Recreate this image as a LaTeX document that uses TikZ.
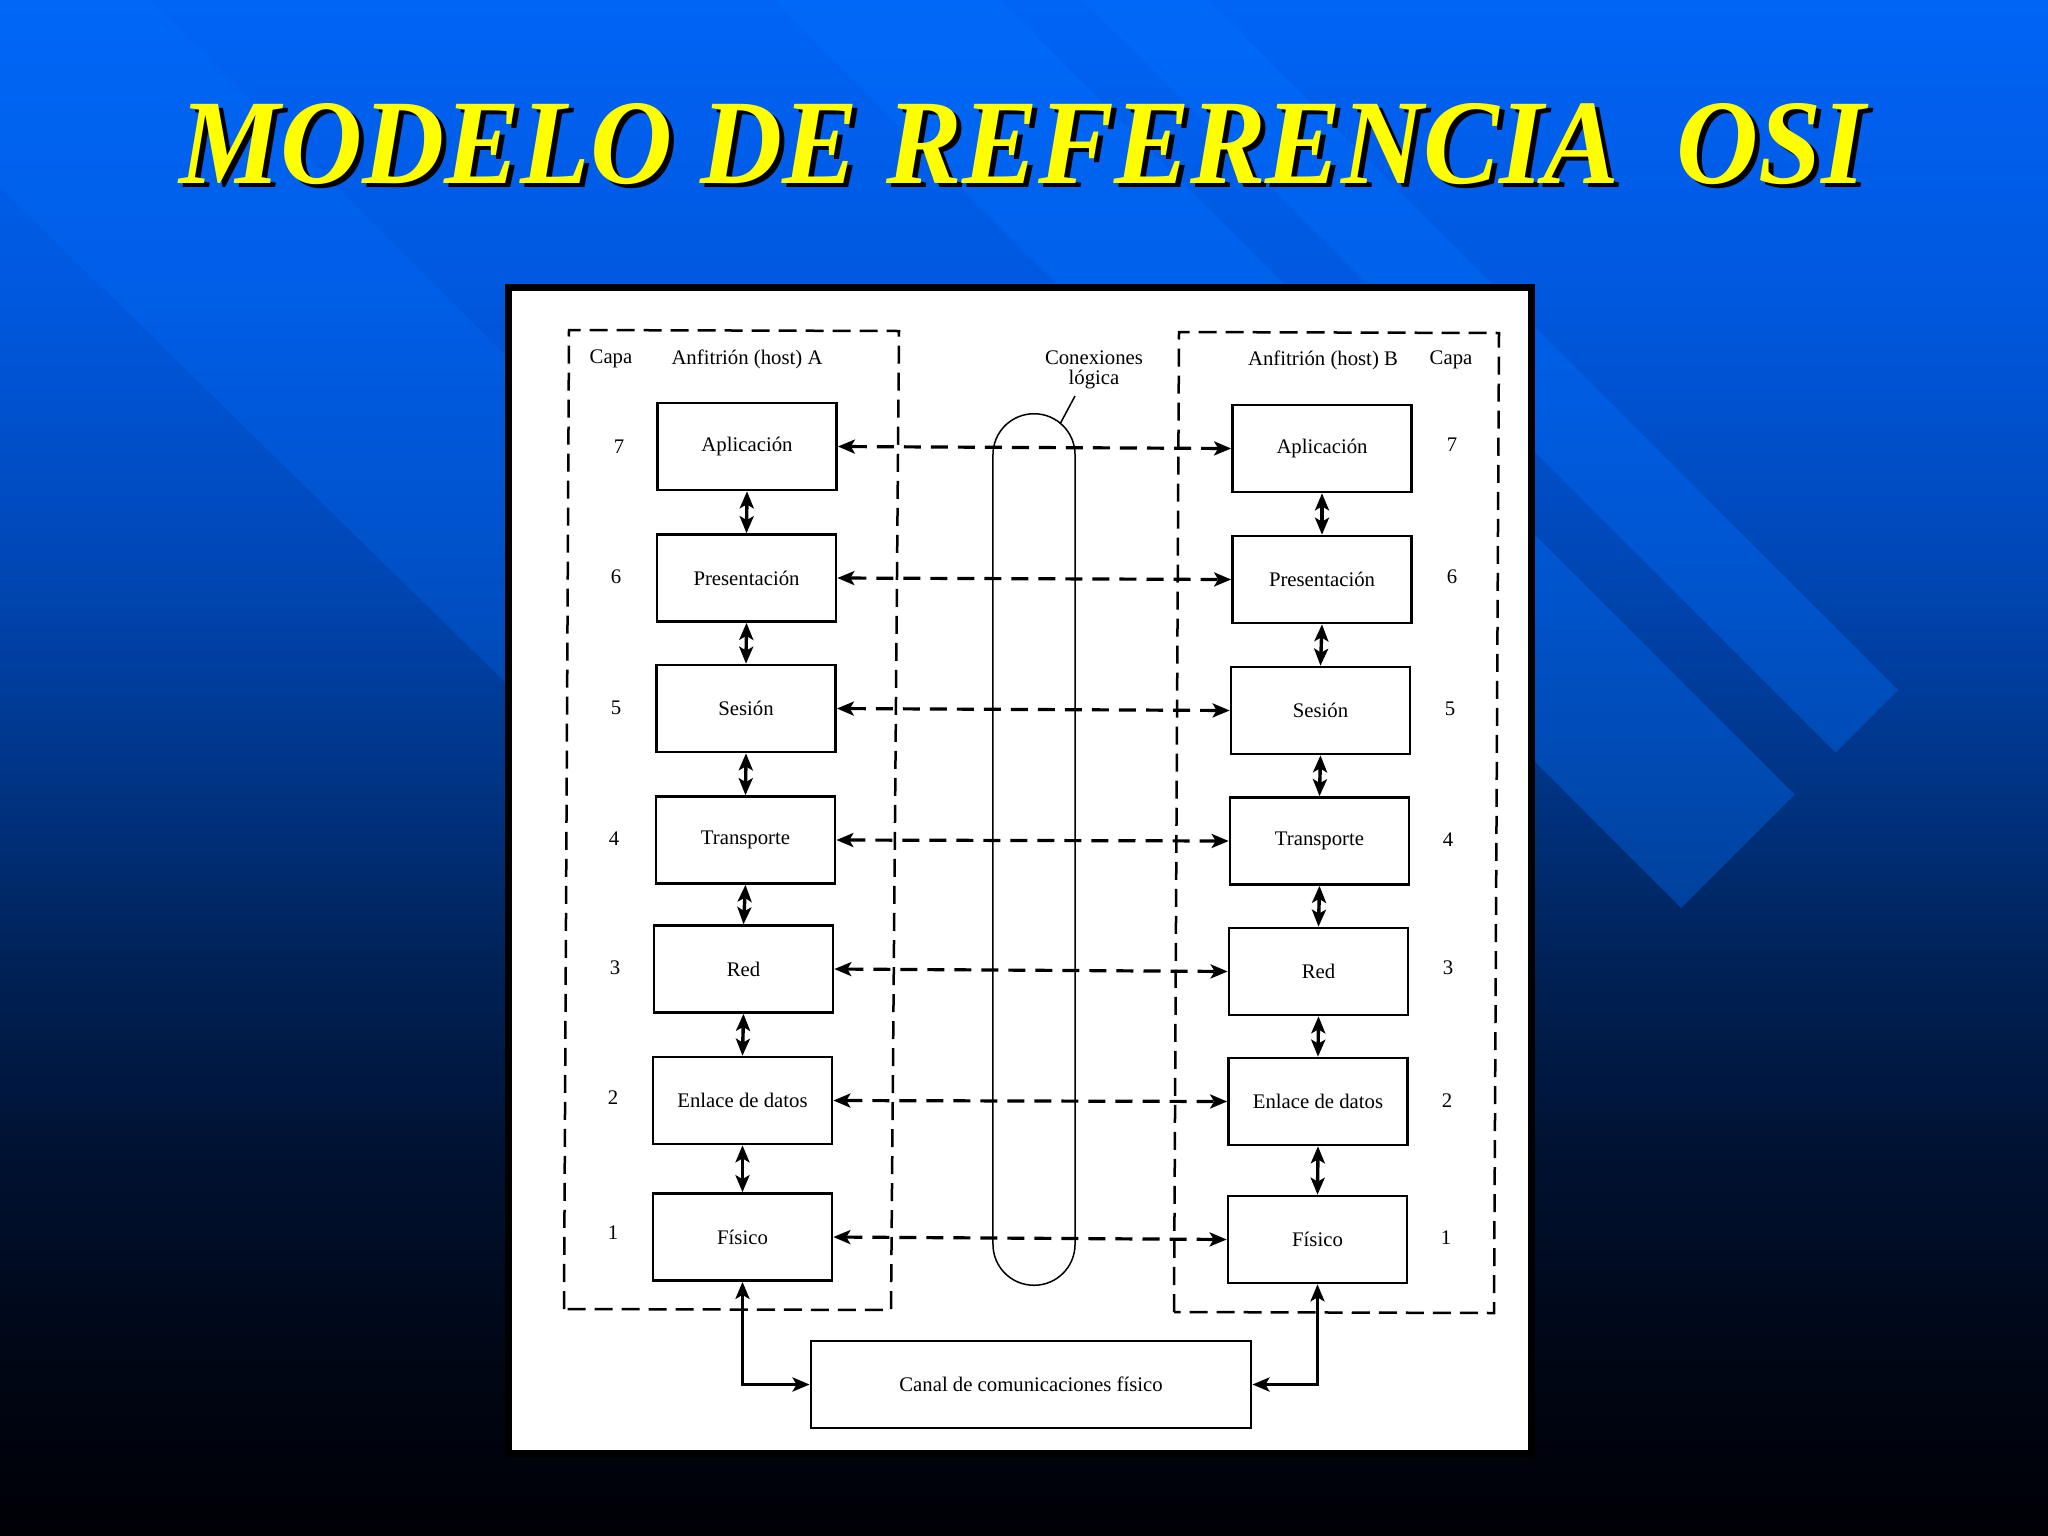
\documentclass[tikz,border=0pt]{standalone}
\usepackage{fontspec}
\setmainfont{Liberation Serif}
\usepackage{graphicx}
\usetikzlibrary{arrows.meta}
\definecolor{titleyellow}{RGB}{255,255,0}
\definecolor{bgA}{RGB}{0,100,245}
\definecolor{bgB}{RGB}{0,88,222}
\definecolor{bgC}{RGB}{0,72,185}
\definecolor{bgD}{RGB}{0,55,140}
\definecolor{bgE}{RGB}{0,35,90}
\definecolor{bgF}{RGB}{0,18,50}
\definecolor{bgG}{RGB}{0,7,22}
\definecolor{bgH}{RGB}{0,0,5}
\definecolor{stripe}{RGB}{0,112,255}
\newcommand\dfont{\fontsize{5.9pt}{6pt}\selectfont}
\newcommand\ttltext{MODELO DE REFERENCIA\ \ OSI}
\begin{document}
\begin{tikzpicture}[x=0.01cm,y=-0.01cm,
  >={Stealth[length=0.17cm,width=0.14cm,inset=0.04cm]},
  layer/.style={draw=black, fill=white, line width=0.026cm, minimum width=1.79cm, minimum height=0.87cm, inner sep=0pt, font=\dfont},
  lbl/.style={inner sep=0pt, font=\dfont},
  varr/.style={line width=0.034cm, <->},
  harr/.style={line width=0.032cm, dash pattern=on 0.17cm off 0.10cm, <->},
  hostbox/.style={line width=0.025cm, dash pattern=on 0.18cm off 0.09cm},
  pillbox/.style={draw, line width=0.015cm, rounded corners=0.409cm, minimum width=0.82cm, minimum height=8.71cm, inner sep=0pt},
  panel/.style={draw=black, fill=white, line width=0.07cm},
  bgstripe/.style={fill=stripe, fill opacity=0.36}
]
\useasboundingbox (0,0) rectangle (2048,1536);
\begin{scope}
\clip (0,0) rectangle (2048,1536);
% background gradient
\shade[top color=bgA, bottom color=bgB] (0,0) rectangle (2048,301);
\shade[top color=bgB, bottom color=bgC] (0,300) rectangle (2048,551);
\shade[top color=bgC, bottom color=bgD] (0,550) rectangle (2048,751);
\shade[top color=bgD, bottom color=bgE] (0,750) rectangle (2048,951);
\shade[top color=bgE, bottom color=bgF] (0,950) rectangle (2048,1151);
\shade[top color=bgF, bottom color=bgG] (0,1150) rectangle (2048,1351);
\shade[top color=bgG, bottom color=bgH] (0,1350) rectangle (2048,1536);
% diagonal stripes
\fill[bgstripe, fill opacity=0.26] (0,187) -- (720,893) -- (720,570) -- (0,-150) -- cycle;
\fill[bgstripe] (1083,0) -- (1208,0) -- (1898,690) -- (1835.5,752.5) -- cycle;
\fill[bgstripe] (773,0) -- (1000,0) -- (1794.5,794.5) -- (1681,908) -- cycle;
\end{scope}

% title
\node[anchor=base west, inner sep=0pt, text=black] (tshadow) at (184,187) {\resizebox{16.85cm}{0.80cm}{\bfseries\itshape\ttltext}};
\node[anchor=base west, inner sep=0pt, text=titleyellow] (title) at (179,183) {\resizebox{16.85cm}{0.80cm}{\bfseries\itshape\ttltext}};

% white panel
\draw[panel] (508.5,287.5) rectangle (1531.5,1453.5);

% host boxes (dashed)
\draw[hostbox] (564,1309) -- (569,330) -- (899,331) -- (891,1310) -- cycle;
\draw[hostbox] (1174,1312) -- (1179,332) -- (1499,333) -- (1494,1313) -- cycle;

% logical connection pill
\node[pillbox] (pill) at (1034,849.5) {};

% headers
\node[lbl] (capaA) at (611,359) {Capa};
\node[lbl] (hostA) at (747,359) {Anfitrión (host) A};
\node[lbl] (hostB) at (1323,360) {Anfitrión (host) B};
\node[lbl] (capaB) at (1451,360) {Capa};
\node[lbl, align=center] (conex) at (1094,370) {Conexiones\\[-0.5pt]lógica};
\coordinate (ldTop) at (1075,396);
\coordinate (ldBot) at (1060,424);
\draw[line width=0.015cm] (ldTop) -- (ldBot);

% host A layers
\node[layer] (A7) at (747,446.5) {Aplicación};
\node[layer] (A6) at (746.5,578) {Presentación};
\node[layer] (A5) at (746,708.5) {Sesión};
\node[layer] (A4) at (745.5,840) {Transporte};
\node[layer] (A3) at (743.5,969) {Red};
\node[layer] (A2) at (742.5,1100.5) {Enlace de datos};
\node[layer] (A1) at (742.5,1237) {Físico};

% host B layers
\node[layer] (B7) at (1322,448.5) {Aplicación};
\node[layer] (B6) at (1322,579.5) {Presentación};
\node[layer] (B5) at (1320.5,710.5) {Sesión};
\node[layer] (B4) at (1319.5,841) {Transporte};
\node[layer] (B3) at (1318.5,971.5) {Red};
\node[layer] (B2) at (1318,1101.5) {Enlace de datos};
\node[layer] (B1) at (1317.5,1239.5) {Físico};

% layer numbers
\node[lbl] (nA7) at (619,447) {7};
\node[lbl] (nA6) at (616,577) {6};
\node[lbl] (nA5) at (616,708) {5};
\node[lbl] (nA4) at (614,839) {4};
\node[lbl] (nA3) at (615,968) {3};
\node[lbl] (nA2) at (613,1098) {2};
\node[lbl] (nA1) at (613,1233) {1};
\node[lbl] (nB7) at (1452,445) {7};
\node[lbl] (nB6) at (1452,577) {6};
\node[lbl] (nB5) at (1450,709) {5};
\node[lbl] (nB4) at (1448,840) {4};
\node[lbl] (nB3) at (1448,968) {3};
\node[lbl] (nB2) at (1447,1101) {2};
\node[lbl] (nB1) at (1446,1238) {1};

% physical channel
\node[layer, minimum width=4.40cm] (canal) at (1031,1384.5) {Canal de comunicaciones físico};

% vertical arrows
\foreach \u/\l in {7/6,6/5,5/4,4/3,3/2,2/1}{
  \draw[varr] (A\u.south) -- (A\l.north);
  \draw[varr] (B\u.south) -- (B\l.north);
}
% logical (dashed) arrows
\foreach \k in {7,6,5,4,3,2,1}{
  \draw[harr] (A\k.east) -- (B\k.west);
}
% to physical channel
\draw[varr] (A1.south) |- (canal.west);
\draw[varr] (B1.south) |- (canal.east);
\end{tikzpicture}
\end{document}
